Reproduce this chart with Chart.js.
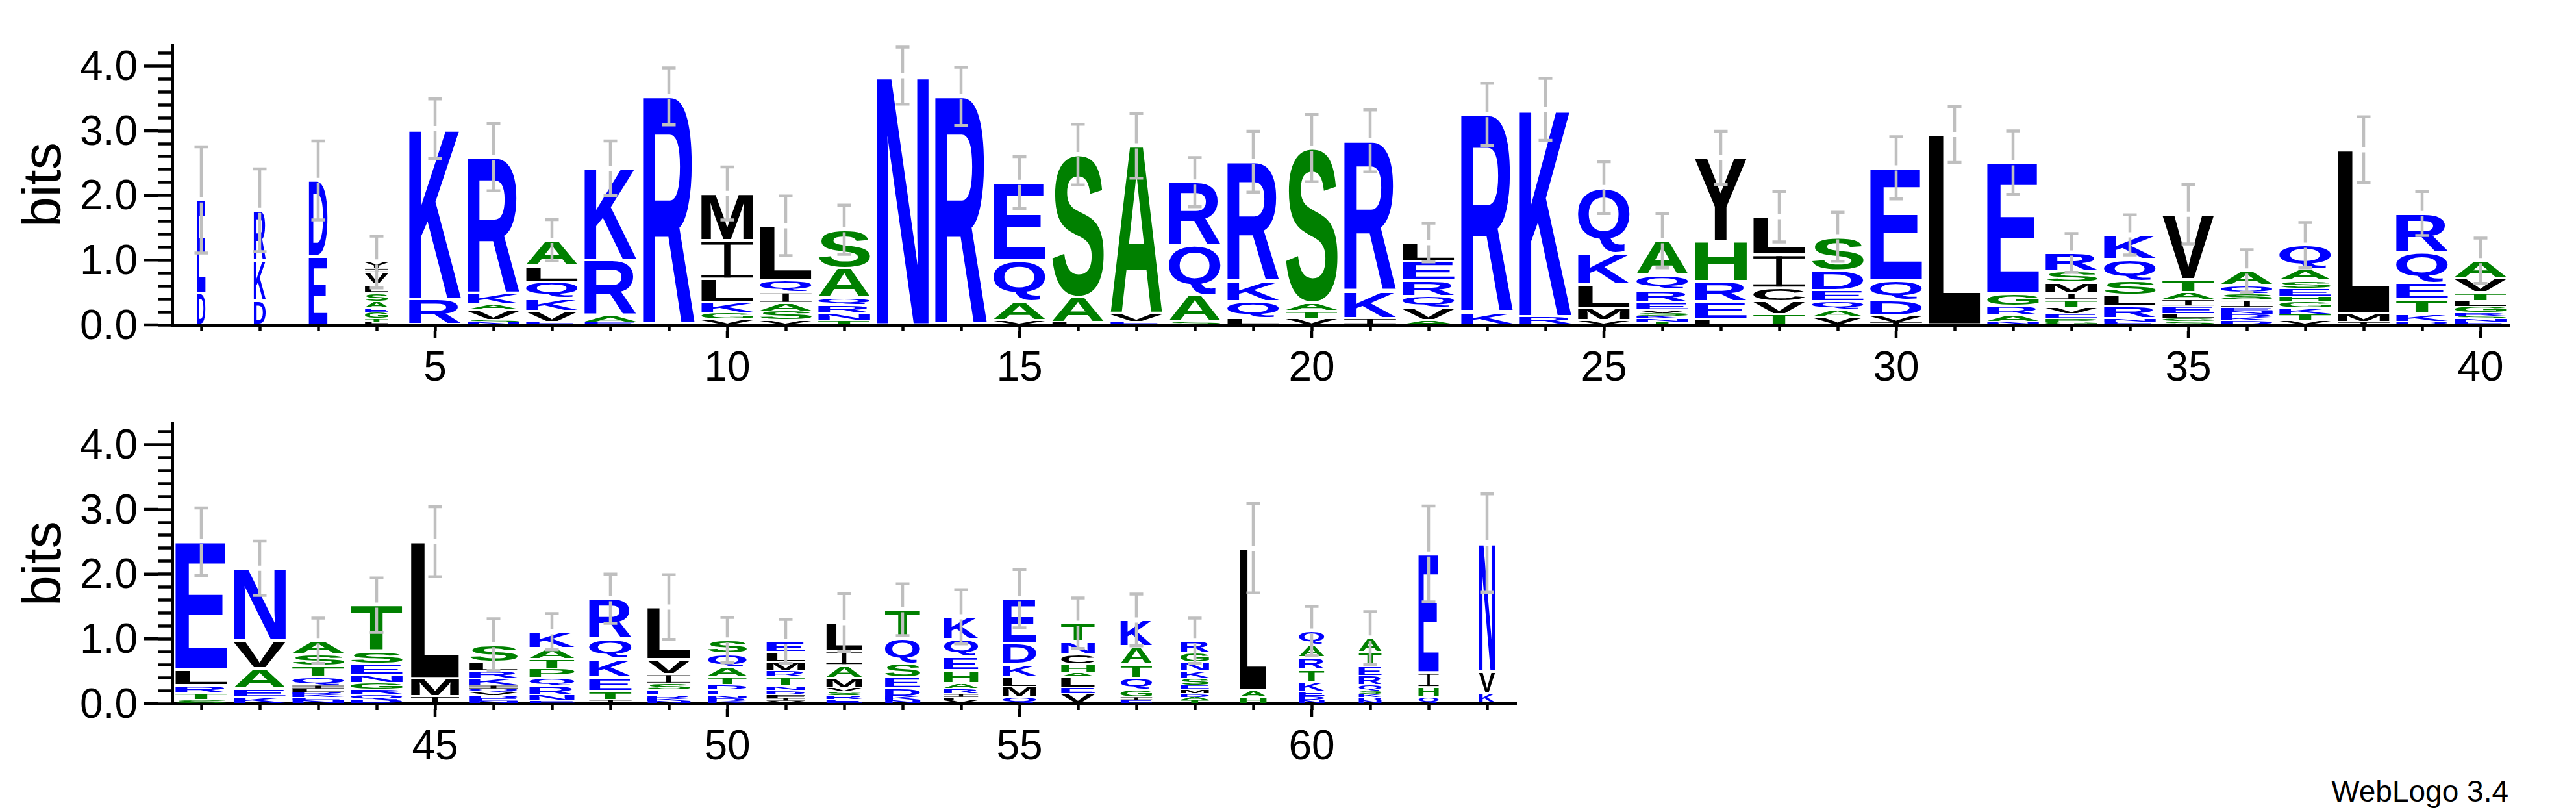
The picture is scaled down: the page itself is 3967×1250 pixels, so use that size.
<!DOCTYPE html>
<html>
<head>
<meta charset="utf-8">
<script src="https://cdn.jsdelivr.net/npm/chart.js@4.4.1/dist/chart.umd.min.js"></script>
<style>
html,body{margin:0;padding:0;background:#fff;}
body{width:3967px;height:1250px;position:relative;overflow:hidden;}
canvas{position:absolute;left:0;}
#c1{top:0;}
#c2{top:583px;}
#fine{position:absolute;right:104px;top:1195px;font-family:"Liberation Sans",Arial,sans-serif;font-size:46px;line-height:46px;color:#000;white-space:nowrap;}
</style>
</head>
<body>
<canvas id="c1" width="3967" height="600" style="width:3967px;height:600px"></canvas>
<canvas id="c2" width="3967" height="600" style="width:3967px;height:600px"></canvas>
<div id="fine">WebLogo 3.4</div>
<script>
const positions = [1,2,3,4,5,6,7,8,9,10,11,12,13,14,15,16,17,18,19,20,
  21,22,23,24,25,26,27,28,29,30,31,32,33,34,35,36,37,38,39,40,
  41,42,43,44,45,46,47,48,49,50,51,52,53,54,55,56,57,58,59,60,61,62,63];

// letters of each stack, bottom -> top
const stackLetters = [
  "DE","DKR","ED","FTGEASLVIY","RK","NSVAKR","EVKQLA","EARK","R","VGKLIM",
  "VSAIQL","TNRQAS","N","R","VAQE","LAS","EVA","SAQR","LQKR","VTAS",
  "IKR","AVQREL","KR","RK","VMLKQ","TNKSVERQA","LERHY","TVCIL","VAQEDS","IVDQE",
  "L","NARGE","GPEVTIMSR","ENRLSQK","SGLEIATV","DKRNEISQA","VTKGHESAQ","IML","DKTEQR","ENSRGLTVA",
  "STRLE","KEAVN","NEKRLIQTSA","DQRGNEST","IML","NEDVQIKRLS","ENRQPTAK","ITEKQR","NKRESIVL","KRNEDTAQS",
  "VIFDNTRMLE","ERSVMAIL","NKDESQT","VLIRAHEQK","QMLKDE","VELAHCNT","EIGQTAK","TADMESKNGR","HAL","NDEKTRAQ",
  "NDKSQRETA","QHIE","KVN"
];

// letter heights in bits, same order as stackLetters
const stackHeights = [
  [0.49,1.44],
  [0.38,0.61,0.78],
  [1.06,1.17],
  [0.045,0.05,0.10,0.07,0.095,0.13,0.13,0.19,0.06,0.10],
  [0.40,2.63],
  [0.04,0.04,0.15,0.08,0.17,2.11],
  [0.045,0.17,0.20,0.25,0.25,0.39],
  [0.04,0.10,0.86,1.42],
  [3.53],
  [0.09,0.09,0.16,0.37,0.59,0.73],
  [0.07,0.14,0.13,0.16,0.19,0.84],
  [0.07,0.11,0.13,0.11,0.46,0.59],
  [3.85],
  [3.53],
  [0.07,0.29,0.63,1.21],
  [0.04,0.39,2.20],
  [0.045,0.12,2.60],
  [0.045,0.41,0.77,0.98],
  [0.10,0.26,0.31,1.85],
  [0.10,0.12,0.12,2.39],
  [0.10,0.42,2.32],
  [0.07,0.19,0.18,0.24,0.29,0.30],
  [0.19,3.06],
  [0.13,3.20],
  [0.07,0.19,0.36,0.48,1.02],
  [0.05,0.05,0.04,0.04,0.05,0.11,0.20,0.23,0.53],
  [0.09,0.27,0.31,0.62,1.29],
  [0.16,0.20,0.21,0.51,0.59],
  [0.12,0.12,0.12,0.17,0.31,0.52],
  [0.045,0.10,0.24,0.30,1.74],
  [2.94],
  [0.045,0.10,0.15,0.19,2.02],
  [0.05,0.05,0.07,0.10,0.12,0.10,0.16,0.18,0.28],
  [0.05,0.05,0.19,0.17,0.22,0.33,0.38],
  [0.05,0.05,0.07,0.12,0.10,0.11,0.20,1.01],
  [0.06,0.06,0.05,0.05,0.05,0.11,0.10,0.13,0.22],
  [0.07,0.09,0.10,0.10,0.08,0.12,0.12,0.18,0.37],
  [0.045,0.13,2.53],
  [0.05,0.12,0.22,0.26,0.47,0.60],
  [0.045,0.045,0.05,0.05,0.09,0.09,0.13,0.22,0.27],
  [0.06,0.10,0.12,0.25,1.97],
  [0.10,0.13,0.31,0.43,1.12],
  [0.05,0.05,0.04,0.04,0.05,0.05,0.12,0.18,0.18,0.21],
  [0.06,0.08,0.08,0.10,0.13,0.16,0.20,0.71],
  [0.11,0.28,2.11],
  [0.04,0.04,0.05,0.05,0.05,0.05,0.11,0.11,0.14,0.27],
  [0.04,0.09,0.14,0.13,0.14,0.15,0.16,0.26],
  [0.06,0.13,0.21,0.29,0.31,0.62],
  [0.04,0.04,0.05,0.08,0.10,0.14,0.23,0.81],
  [0.04,0.04,0.05,0.08,0.08,0.13,0.14,0.21,0.21],
  [0.04,0.05,0.04,0.07,0.07,0.14,0.09,0.14,0.16,0.16],
  [0.06,0.06,0.06,0.06,0.15,0.20,0.22,0.44],
  [0.05,0.06,0.12,0.17,0.22,0.39,0.44],
  [0.05,0.05,0.05,0.08,0.08,0.20,0.21,0.27,0.35],
  [0.10,0.16,0.15,0.20,0.32,0.69],
  [0.15,0.09,0.17,0.07,0.13,0.15,0.20,0.28],
  [0.05,0.05,0.11,0.18,0.21,0.28,0.41],
  [0.05,0.05,0.05,0.07,0.06,0.11,0.11,0.14,0.14,0.19],
  [0.10,0.10,2.20],
  [0.05,0.06,0.08,0.14,0.19,0.19,0.19,0.22],
  [0.05,0.05,0.05,0.04,0.10,0.14,0.14,0.22,0.22],
  [0.11,0.14,0.23,1.83],
  [0.16,0.34,1.98]
];

// half length of the error bar (bits)
const errorHalf = [
  0.82,0.64,0.61,0.40,0.46,0.52,0.32,0.42,0.44,0.41,
  0.46,0.38,0.44,0.45,0.40,0.47,0.50,0.38,0.47,0.52,
  0.48,0.30,0.48,0.48,0.40,0.42,0.41,0.39,0.38,0.48,
  0.43,0.49,0.30,0.31,0.46,0.33,0.35,0.51,0.34,0.35,
  0.52,0.42,0.35,0.42,0.54,0.40,0.28,0.38,0.50,0.35,
  0.34,0.45,0.40,0.42,0.45,0.39,0.40,0.35,0.69,0.38,
  0.41,0.74,0.76
];

// visible stack width fraction (columns with many gaps are narrow)
const widthFrac = [
  0.16,0.23,0.36,0.45,1,1,1,1,1,1,
  1,1,1,1,1,1,1,1,1,1,
  1,1,1,1,1,1,1,1,1,1,
  1,1,1,1,1,1,1,1,1,1,
  1,1,1,1,0.93,0.93,0.87,0.82,0.83,0.75,
  0.74,0.69,0.68,0.66,0.65,0.65,0.61,0.55,0.51,0.49,
  0.44,0.39,0.31
];

const labeledPositions = [5,10,15,20,25,30,35,40,45,50,55,60];
const yTickValues = [0,0.2,0.4,0.6,0.8,1.0,1.2,1.4,1.6,1.8,2.0,2.2,2.4,2.6,2.8,3.0,3.2,3.4,3.6,3.8,4.0,4.2];
const yTickLabels = ["0.0","1.0","2.0","3.0","4.0"];
const yMaxBits = 4.3219;

const residueGroups = { blue: "RKDENQ", green: "SGHTAP", black: "YVMCLFIW" };
const groupColors = { blue: "#0000ff", green: "#008000", black: "#000000" };

// ---------------- drawing helpers ----------------
const FONT_FAMILY = '"Liberation Sans", Arial, Helvetica, sans-serif';
const GLYPH_FONT = 'bold 200px ' + FONT_FAMILY;
Chart.defaults.font.family = FONT_FAMILY;
Chart.defaults.color = '#000';

function colorOf(ch) {
  for (const g in residueGroups) if (residueGroups[g].includes(ch)) return groupColors[g];
  return '#000';
}
const metricCache = {};
function glyphMetrics(ctx, ch) {
  if (!metricCache[ch]) {
    ctx.save();
    ctx.font = GLYPH_FONT;
    const m = ctx.measureText(ch);
    metricCache[ch] = { l: m.actualBoundingBoxLeft, r: m.actualBoundingBoxRight,
                        a: m.actualBoundingBoxAscent, d: m.actualBoundingBoxDescent };
    ctx.restore();
  }
  return metricCache[ch];
}
function drawGlyph(ctx, ch, cx, top, bottom, w) {
  let h = bottom - top;
  if (h < 0.4 || w < 0.5) return;
  const inset = Math.min(2, h * 0.1);
  top += inset; h -= 2 * inset;
  ctx.save();
  ctx.fillStyle = colorOf(ch);
  if (ch === 'I') {
    // serif-style I as used by the logo font
    const bar = Math.max(0.8, Math.min(4.2, h * 0.075));
    const stem = Math.max(1, w * 0.12);
    ctx.fillRect(cx - w / 2, top, w, bar);
    ctx.fillRect(cx - w / 2, top + h - bar, w, bar);
    ctx.fillRect(cx - stem / 2, top, stem, h);
    ctx.restore();
    return;
  }
  const m = glyphMetrics(ctx, ch);
  const iw = m.l + m.r, ih = m.a + m.d;
  ctx.translate(cx - w / 2, top);
  ctx.scale(w / iw, h / ih);
  ctx.font = GLYPH_FONT;
  ctx.textAlign = 'left';
  ctx.textBaseline = 'alphabetic';
  ctx.fillText(ch, m.l, m.a);
  ctx.restore();
}

function buildLogo(canvasId, from, to, rightPad) {
  const idx = [];
  for (let i = from; i < to; i++) idx.push(i);
  const labels = idx.map(i => String(positions[i]));
  const depth = Math.max(...idx.map(i => stackLetters[i].length));
  const datasets = [];
  for (let k = 0; k < depth; k++) {
    datasets.push({
      label: 'level ' + k,
      data: idx.map(i => stackHeights[i][k] || 0),
      backgroundColor: 'rgba(0,0,0,0)',
      borderWidth: 0,
      barPercentage: 0.885,
      categoryPercentage: 1.0
    });
  }

  const logoPlugin = {
    id: 'logo_' + canvasId,
    afterDatasetsDraw(chart) {
      const ctx = chart.ctx;
      const ys = chart.scales.y, xs = chart.scales.x;
      for (let k = 0; k < depth; k++) {
        const meta = chart.getDatasetMeta(k);
        meta.data.forEach((bar, j) => {
          const i = idx[j];
          const ch = stackLetters[i][k];
          if (!ch) return;
          const p = bar.getProps(['x', 'y', 'base', 'width'], true);
          drawGlyph(ctx, ch, p.x, Math.min(p.y, p.base), Math.max(p.y, p.base), p.width * widthFrac[i]);
        });
      }
      // error bars
      ctx.save();
      ctx.strokeStyle = '#bfbfbf';
      ctx.lineWidth = 4.5;
      ctx.lineCap = 'butt';
      idx.forEach((i, j) => {
        const total = stackHeights[i].reduce((a, b) => a + b, 0);
        const x = xs.getPixelForValue(j);
        const yT = ys.getPixelForValue(total);
        const yH = ys.getPixelForValue(total + errorHalf[i]);
        const yL = ys.getPixelForValue(Math.max(0, total - errorHalf[i]));
        const gap = 4;
        ctx.beginPath();
        ctx.moveTo(x, yH); ctx.lineTo(x, yT - gap);
        ctx.moveTo(x, yT + gap); ctx.lineTo(x, yL);
        ctx.moveTo(x - 10.5, yH); ctx.lineTo(x + 10.5, yH);
        ctx.moveTo(x - 10.5, yL); ctx.lineTo(x + 10.5, yL);
        ctx.stroke();
      });
      ctx.restore();
    },
    afterDraw(chart) {
      // longer major ticks
      const ctx = chart.ctx, ys = chart.scales.y, xs = chart.scales.x, ca = chart.chartArea;
      ctx.save();
      ctx.strokeStyle = '#000';
      ctx.lineWidth = 4.5;
      ctx.beginPath();
      yTickLabels.forEach((_, v) => {
        const y = ys.getPixelForValue(v);
        ctx.moveTo(ca.left - 44, y); ctx.lineTo(ca.left - 21, y);
      });
      idx.forEach((i, j) => {
        if (labeledPositions.includes(positions[i])) {
          const x = xs.getPixelForValue(j);
          ctx.moveTo(x, ca.bottom + 9); ctx.lineTo(x, ca.bottom + 20);
        }
      });
      ctx.stroke();
      ctx.restore();
    }
  };

  return new Chart(document.getElementById(canvasId), {
    type: 'bar',
    data: { labels, datasets },
    plugins: [logoPlugin],
    options: {
      responsive: false,
      animation: false,
      devicePixelRatio: 1,
      layout: { padding: { top: 50, left: 0, right: rightPad, bottom: 0 } },
      plugins: { legend: { display: false }, tooltip: { enabled: false } },
      scales: {
        x: {
          type: 'category',
          stacked: true,
          offset: true,
          grid: { display: true, drawOnChartArea: false, drawTicks: true, tickLength: 10,
                  tickWidth: 4.5, tickColor: '#000', offset: false },
          border: { display: true, width: 5, color: '#000' },
          ticks: {
            autoSkip: false, maxRotation: 0, minRotation: 0, padding: 20, color: '#000',
            font: { family: FONT_FAMILY, size: 64 },
            callback: (v, j) => labeledPositions.includes(positions[from + j]) ? String(positions[from + j]) : ''
          },
          afterFit(s) { s.height = 100; }
        },
        y: {
          type: 'linear',
          stacked: true,
          min: 0,
          max: yMaxBits,
          grid: { display: true, drawOnChartArea: false, drawTicks: true, tickLength: 22,
                  tickWidth: 4.5, tickColor: '#000' },
          border: { display: true, width: 5, color: '#000' },
          ticks: {
            autoSkip: false, padding: 31, color: '#000', labelOffset: 4,
            font: { family: FONT_FAMILY, size: 64 },
            callback: (v) => {
              const r = Math.round(v);
              return Math.abs(v - r) < 1e-6 ? yTickLabels[r] : '';
            }
          },
          afterBuildTicks(s) { s.ticks = yTickValues.map(v => ({ value: v })); },
          afterFit(s) { s.width = 265; },
          title: {
            display: true, text: 'bits', color: '#000',
            font: { family: FONT_FAMILY, size: 84, lineHeight: 1.2 },
            padding: { top: 19, bottom: 0 }
          }
        }
      }
    }
  });
}

buildLogo('c1', 0, 40, 3967 - (265 + 40 * 90));
buildLogo('c2', 40, 63, 3967 - (265 + 23 * 90));
</script>
</body>
</html>
